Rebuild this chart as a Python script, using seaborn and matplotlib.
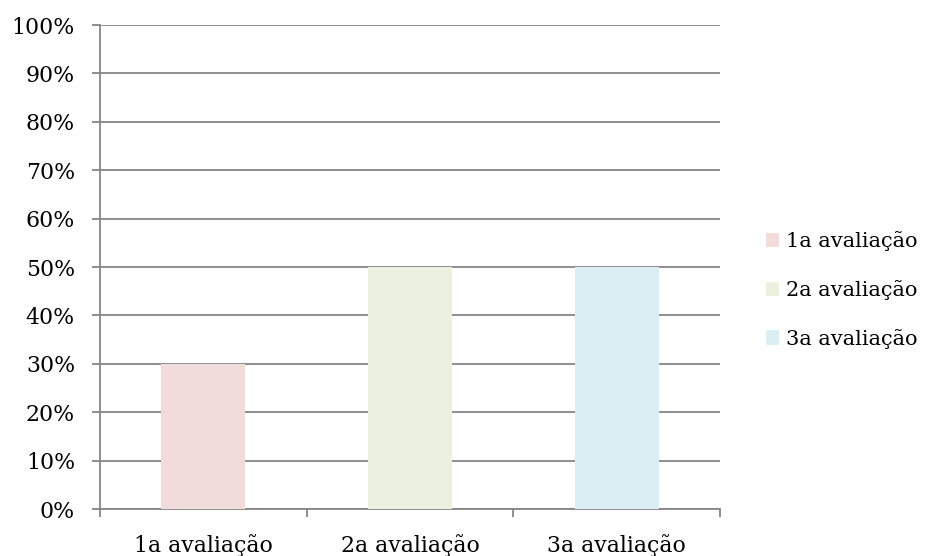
import matplotlib
matplotlib.use("Agg")
import matplotlib.pyplot as plt
import matplotlib.ticker as mticker
import seaborn as sns
import pandas as pd

categories = ["1a avaliação", "2a avaliação", "3a avaliação"]
values = [0.30, 0.50, 0.50]
colors = ["#F2DCDB", "#EBF1DE", "#DBEEF3"]
y_ticks = [i / 10 for i in range(11)]

sns.set_theme(style="white")
plt.rcParams["font.family"] = ["DejaVu Serif"]

df = pd.DataFrame({"cat": categories, "val": values})

fig = plt.figure(figsize=(9.27, 5.56), dpi=100)
ax = fig.add_axes([100 / 927, 47 / 556, 620 / 927, 484 / 556])

sns.barplot(data=df, x="cat", y="val", hue="cat", palette=colors,
            width=0.405, saturation=1, legend=True, ax=ax, zorder=3,
            linewidth=0, edgecolor="none")

grid_c = "#868686"
fs = 15.8
ax.set_ylim(0, 1)
ax.set_xlim(-0.5, 2.5)
ax.set_yticks(y_ticks)
ax.yaxis.set_major_formatter(mticker.PercentFormatter(1.0, decimals=0))
ax.yaxis.grid(True, color=grid_c, linewidth=1.3, zorder=0)
ax.set_axisbelow(True)

for side in ["top", "right"]:
    ax.spines[side].set_visible(False)
for side in ["left", "bottom"]:
    ax.spines[side].set_color(grid_c)
    ax.spines[side].set_linewidth(1.3)

ax.tick_params(axis="y", length=6, width=1.3, color=grid_c, left=True,
               labelsize=fs, labelcolor="black", pad=12)
ax.set_xticks([0, 1, 2])
ax.set_xticklabels(categories)
ax.tick_params(axis="x", which="major", length=0, labelsize=fs,
               labelcolor="black", pad=18)
ax.set_xticks([-0.5, 0.5, 1.5, 2.5], minor=True)
ax.tick_params(axis="x", which="minor", length=6, width=1.3, color=grid_c,
               bottom=True)
ax.set_xlabel("")
ax.set_ylabel("")

handles, labels = ax.get_legend_handles_labels()
ax.legend(handles, labels, loc="center left", bbox_to_anchor=(1.074, 0.452),
          frameon=False, fontsize=15, labelcolor="black",
          handlelength=0.65, handleheight=0.7, handletextpad=0.3,
          labelspacing=1.38, borderaxespad=0, borderpad=0)

fig.savefig("out.png", dpi=100)
